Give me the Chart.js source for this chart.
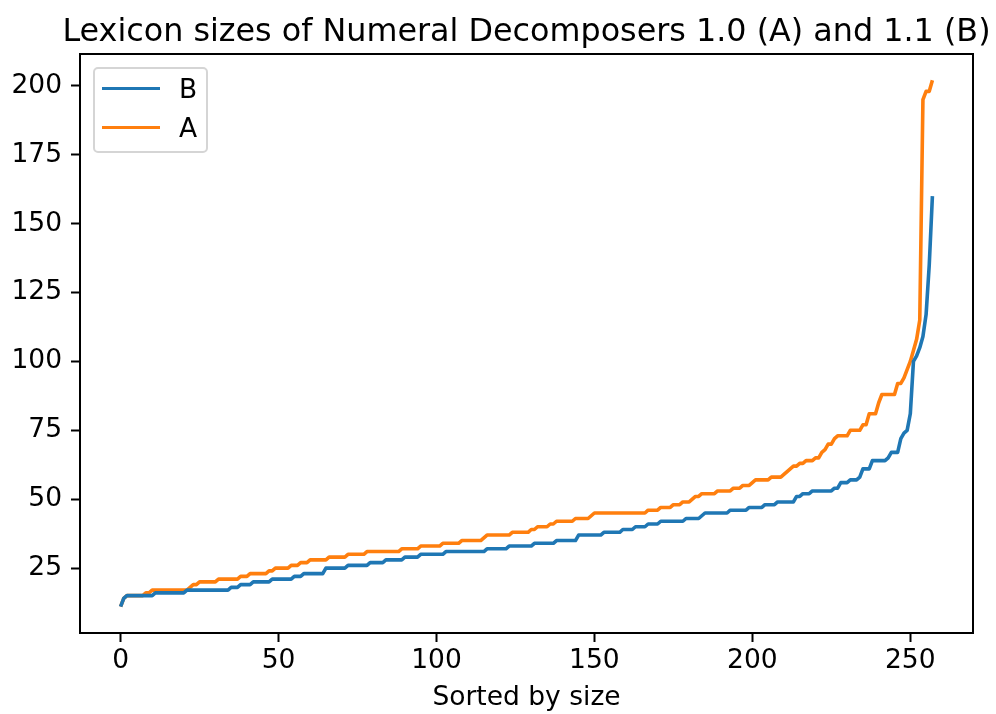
<!DOCTYPE html>
<html lang="en">
<head>
<meta charset="UTF-8">
<title>Lexicon sizes</title>
<script src="https://cdn.jsdelivr.net/npm/chart.js"></script>
<style>
    body { margin: 0; background: #fff; overflow: hidden; }
    #wrap { position: relative; width: 996px; height: 714px; font-family: 'DejaVu Sans', sans-serif; color: #000; }
    #title {
        position: absolute; left: 57px; top: 10px; width: 939px; height: 40px;
        line-height: 40px; font-size: 31.8px; text-align: center; white-space: nowrap;
    }
    #legend {
        position: absolute; left: 93px; top: 67px; width: 115px; height: 86px;
        box-sizing: border-box; border: 2px solid #d5d5d5; border-radius: 5px;
        background: rgba(255, 255, 255, 0.8); font-size: 26.5px;
    }
    #legend .row { height: 39px; display: flex; align-items: center; }
    #legend .swatch { width: 58px; height: 3.6px; margin-left: 7px; }
    #legend .label { margin-left: 19px; }
</style>
</head>
<body>
<div id="wrap">
    <canvas id="chart" width="996" height="714"></canvas>
    <div id="title">Lexicon sizes of Numeral Decomposers 1.0 (A) and 1.1 (B)</div>
    <div id="legend"></div>
</div>

<script>
    // Lexicon size per decomposer, sorted ascending (index = rank)
    const seriesB = [
        11, 14, 15, 15, 15, 15, 15, 15, 15, 15,
        15, 16, 16, 16, 16, 16, 16, 16, 16, 16,
        16, 17, 17, 17, 17, 17, 17, 17, 17, 17,
        17, 17, 17, 17, 17, 18, 18, 18, 19, 19,
        19, 19, 20, 20, 20, 20, 20, 20, 21, 21,
        21, 21, 21, 21, 21, 22, 22, 22, 23, 23,
        23, 23, 23, 23, 23, 25, 25, 25, 25, 25,
        25, 25, 26, 26, 26, 26, 26, 26, 26, 27,
        27, 27, 27, 27, 28, 28, 28, 28, 28, 28,
        29, 29, 29, 29, 29, 30, 30, 30, 30, 30,
        30, 30, 30, 31, 31, 31, 31, 31, 31, 31,
        31, 31, 31, 31, 31, 31, 32, 32, 32, 32,
        32, 32, 32, 33, 33, 33, 33, 33, 33, 33,
        33, 34, 34, 34, 34, 34, 34, 34, 35, 35,
        35, 35, 35, 35, 35, 37, 37, 37, 37, 37,
        37, 37, 37, 38, 38, 38, 38, 38, 38, 39,
        39, 39, 39, 40, 40, 40, 40, 41, 41, 41,
        41, 42, 42, 42, 42, 42, 42, 42, 42, 43,
        43, 43, 43, 43, 44, 45, 45, 45, 45, 45,
        45, 45, 45, 46, 46, 46, 46, 46, 46, 47,
        47, 47, 47, 47, 48, 48, 48, 48, 49, 49,
        49, 49, 49, 49, 51, 51, 52, 52, 52, 53,
        53, 53, 53, 53, 53, 53, 54, 54, 56, 56,
        56, 57, 57, 57, 58, 61, 61, 61, 64, 64,
        64, 64, 64, 65, 67, 67, 67, 72, 74, 75,
        81, 100, 102, 105, 109, 117, 135, 160
    ];
    const seriesA = [
        11, 14, 15, 15, 15, 15, 15, 15, 16, 16,
        17, 17, 17, 17, 17, 17, 17, 17, 17, 17,
        17, 17, 18, 19, 19, 20, 20, 20, 20, 20,
        20, 21, 21, 21, 21, 21, 21, 21, 22, 22,
        22, 23, 23, 23, 23, 23, 23, 24, 24, 25,
        25, 25, 25, 25, 26, 26, 26, 27, 27, 27,
        28, 28, 28, 28, 28, 28, 29, 29, 29, 29,
        29, 29, 30, 30, 30, 30, 30, 30, 31, 31,
        31, 31, 31, 31, 31, 31, 31, 31, 31, 32,
        32, 32, 32, 32, 32, 33, 33, 33, 33, 33,
        33, 33, 34, 34, 34, 34, 34, 34, 35, 35,
        35, 35, 35, 35, 35, 36, 37, 37, 37, 37,
        37, 37, 37, 37, 38, 38, 38, 38, 38, 38,
        39, 39, 40, 40, 40, 40, 41, 41, 42, 42,
        42, 42, 42, 42, 43, 43, 43, 43, 43, 44,
        45, 45, 45, 45, 45, 45, 45, 45, 45, 45,
        45, 45, 45, 45, 45, 45, 45, 46, 46, 46,
        46, 47, 47, 47, 47, 48, 48, 48, 49, 49,
        49, 50, 51, 51, 52, 52, 52, 52, 52, 53,
        53, 53, 53, 53, 54, 54, 54, 55, 55, 55,
        56, 57, 57, 57, 57, 57, 58, 58, 58, 58,
        59, 60, 61, 62, 62, 63, 63, 64, 64, 64,
        65, 65, 67, 68, 70, 70, 72, 73, 73, 73,
        73, 75, 75, 75, 75, 77, 77, 81, 81, 81,
        85, 88, 88, 88, 88, 88, 92, 92, 94, 97,
        100, 104, 108, 115, 195, 198, 198, 202
    ];
    const xTicks = [0, 50, 100, 150, 200, 250];
    const yTicks = [25, 50, 75, 100, 125, 150, 175, 200];

    // matplotlib-style 5% margins around the data
    const n = Math.max(seriesA.length, seriesB.length) - 1;
    const all = seriesA.concat(seriesB);
    const yLo = Math.min(...all), yHi = Math.max(...all);
    const xPad = n * 0.05, yPad = (yHi - yLo) * 0.05;

    const toPoints = arr => arr.map((v, i) => ({ x: i, y: v }));

    Chart.defaults.font.family = "'DejaVu Sans', sans-serif";
    Chart.defaults.color = '#000';

    // black box round the plot area, like matplotlib spines
    const axesFrame = {
        id: 'axesFrame',
        afterDatasetsDraw(chart) {
            const { ctx, chartArea: a } = chart;
            ctx.save();
            ctx.strokeStyle = '#000';
            ctx.lineWidth = 2;
            ctx.strokeRect(a.left, a.top, a.right - a.left, a.bottom - a.top);
            ctx.restore();
        }
    };

    const tickGrid = { display: true, drawOnChartArea: false, drawTicks: true, tickLength: 9, tickWidth: 2, tickColor: '#000' };

    const chart = new Chart(document.getElementById('chart'), {
        type: 'line',
        data: {
            datasets: [
                { label: 'B', data: toPoints(seriesB), borderColor: '#1f77b4' },
                { label: 'A', data: toPoints(seriesA), borderColor: '#ff7f0e' }
            ].map(d => Object.assign(d, {
                borderWidth: 3.6, pointRadius: 0, tension: 0, fill: false,
                borderJoinStyle: 'round'
            }))
        },
        options: {
            responsive: false,
            animation: false,
            devicePixelRatio: 1,
            layout: { padding: { left: 0, right: 23, top: 54, bottom: 0 } },
            plugins: {
                legend: { display: false },
                tooltip: { enabled: false },
                title: { display: false }
            },
            scales: {
                x: {
                    type: 'linear',
                    min: -xPad,
                    max: n + xPad,
                    afterBuildTicks: s => { s.ticks = xTicks.map(v => ({ value: v })); },
                    afterFit: s => { s.height = 81; },
                    ticks: { font: { size: 26.5 }, color: '#000', padding: 3, maxRotation: 0 },
                    grid: tickGrid,
                    border: { display: false },
                    title: { display: true, text: 'Sorted by size', color: '#000', font: { size: 26.5 }, padding: { top: 0, bottom: 0 } }
                },
                y: {
                    min: yLo - yPad,
                    max: yHi + yPad,
                    afterBuildTicks: s => { s.ticks = yTicks.map(v => ({ value: v })); },
                    afterFit: s => { s.width = 80; },
                    ticks: { font: { size: 26.5 }, color: '#000', padding: 9 },
                    grid: tickGrid,
                    border: { display: false }
                }
            }
        },
        plugins: [axesFrame]
    });

    // HTML legend, built from the datasets
    const legendEl = document.getElementById('legend');
    chart.data.datasets.forEach(ds => {
        const row = document.createElement('div');
        row.className = 'row';
        row.innerHTML = '<span class="swatch" style="background:' + ds.borderColor + '"></span>' +
            '<span class="label">' + ds.label + '</span>';
        legendEl.appendChild(row);
    });
</script>
</body>
</html>
